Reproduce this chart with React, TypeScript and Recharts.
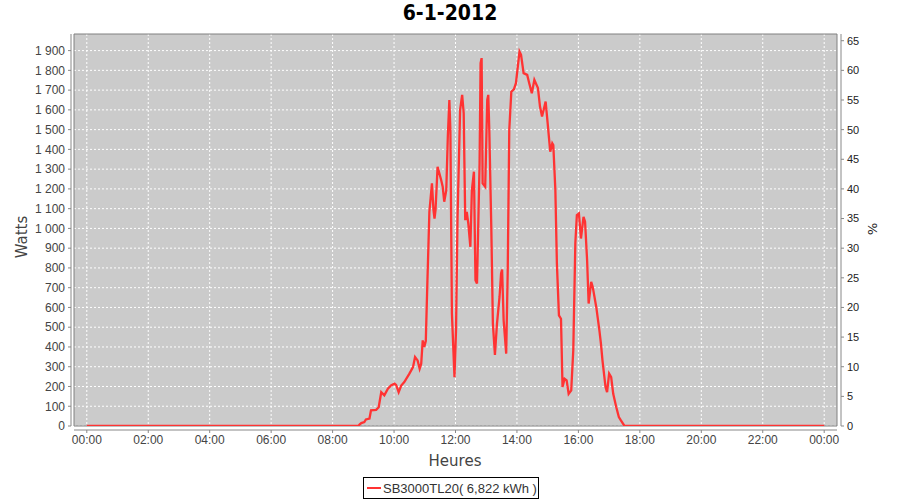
import { CartesianGrid, Line, LineChart, ReferenceArea, XAxis, YAxis } from 'recharts'

// puissance relevée (heure locale, watts)
const TIMES = [
  '00:00', '08:50', '08:53', '08:56', '09:02', '09:05', '09:12', '09:15', '09:25', '09:30',
  '09:35', '09:41', '09:48', '09:54', '10:01', '10:04', '10:09', '10:14', '10:20', '10:30',
  '10:37', '10:41', '10:46', '10:50', '10:53', '10:56', '10:59', '11:02', '11:05', '11:07',
  '11:09', '11:14', '11:17', '11:19', '11:21', '11:25', '11:32', '11:35', '11:38', '11:42',
  '11:45', '11:48', '11:50', '11:53', '11:58', '12:01', '12:04', '12:09', '12:13', '12:16',
  '12:19', '12:22', '12:25', '12:29', '12:32', '12:36', '12:39', '12:42', '12:47', '12:49',
  '12:51', '12:53', '12:58', '13:02', '13:04', '13:06', '13:10', '13:13', '13:17', '13:21',
  '13:26', '13:29', '13:31', '13:34', '13:39', '13:42', '13:45', '13:49', '13:54', '13:58',
  '14:05', '14:08', '14:13', '14:20', '14:24', '14:29', '14:34', '14:41', '14:45', '14:49',
  '14:56', '15:00', '15:05', '15:09', '15:11', '15:15', '15:18', '15:22', '15:26', '15:29',
  '15:33', '15:37', '15:41', '15:46', '15:50', '15:54', '15:57', '16:01', '16:05', '16:10',
  '16:13', '16:17', '16:20', '16:25', '16:28', '16:35', '16:41', '16:44', '16:47', '16:53',
  '16:56', '17:00', '17:04', '17:08', '17:14', '17:19', '17:23', '17:30', '24:00',
]

const WATTS = [
  0, 0, 8, 15, 20, 33, 38, 79, 82, 95,
  171, 155, 189, 205, 214, 208, 171, 205, 222, 265,
  298, 349, 332, 290, 315, 433, 400, 430, 720, 900,
  1084, 1228, 1093, 1050, 1093, 1312, 1245, 1211, 1135, 1194,
  1464, 1650, 1498, 569, 247, 484, 1059, 1600, 1676, 1583,
  1042, 1084, 1025, 907, 1194, 1287, 738, 721, 1329, 1836,
  1862, 1228, 1211, 1650, 1676, 1498, 991, 518, 360, 518,
  653, 772, 792, 535, 366, 788, 1498, 1692, 1704, 1735,
  1895, 1879, 1786, 1777, 1735, 1684, 1752, 1710, 1617, 1566,
  1642, 1532, 1388, 1431, 1422, 1194, 822, 560, 543, 197,
  239, 231, 163, 180, 383, 924, 1068, 1076, 949, 1059,
  1034, 839, 620, 729, 704, 600, 484, 417, 332, 197,
  171, 265, 247, 163, 95, 45, 28, 0, 0,
]

const HOUR_TICKS = [0, 120, 240, 360, 480, 600, 720, 840, 960, 1080, 1200, 1320, 1440]
const WATT_TICKS = [
  0, 100, 200, 300, 400, 500, 600, 700, 800, 900, 1000,
  1100, 1200, 1300, 1400, 1500, 1600, 1700, 1800, 1900,
]
const PCT_TICKS = [0, 5, 10, 15, 20, 25, 30, 35, 40, 45, 50, 55, 60, 65]

const TITLE = '6-1-2012'
const SERIES = 'SB3000TL20( 6,822 kWh )'

const toMinutes = (t: string) => {
  const [h, m] = t.split(':').map(Number)
  return h * 60 + m
}

const data = TIMES.map((t, i) => ({ min: toMinutes(t), watts: WATTS[i] }))

const fmtHour = (v: number) => {
  const h = Math.floor(v / 60) % 24
  return `${String(h).padStart(2, '0')}:00`
}

const fmtWatts = (v: number) =>
  v >= 1000 ? `${Math.floor(v / 1000)} ${String(v % 1000).padStart(3, '0')}` : String(v)

const X_MIN = -25
const X_MAX = 1465
const W_MAX = 1984
const P_MAX = W_MAX / 30

const tickFont = { fontFamily: 'Liberation Sans', fontSize: 12, fill: '#444' }
const axisGrey = '#888'
const LINE_RED = '#ff3333'

export default function App() {
  return (
    <div
      style={{
        position: 'absolute',
        left: 0,
        top: 0,
        width: 900,
        height: 500,
        background: '#fff',
        fontFamily: 'DejaVu Sans',
      }}
    >
      <div
        style={{
          position: 'absolute',
          top: 1,
          width: 900,
          textAlign: 'center',
          fontFamily: 'DejaVu Sans Condensed',
          fontWeight: 'bold',
          fontSize: 21,
          color: '#000',
        }}
      >
        {TITLE}
      </div>

      <LineChart
        width={900}
        height={500}
        data={data}
        margin={{ top: 34, right: 13, bottom: 44, left: 14 }}
      >
        <CartesianGrid
          xAxisId="x"
          yAxisId="left"
          fill="#cbcbcb"
          stroke="#ffffff"
          strokeDasharray="2 2"
          verticalValues={HOUR_TICKS}
          horizontalValues={WATT_TICKS}
        />
        <ReferenceArea
          xAxisId="x"
          yAxisId="left"
          x1={X_MIN}
          x2={X_MAX}
          y1={0}
          y2={W_MAX}
          fill="none"
          stroke="#808080"
          strokeWidth={1}
        />
        <XAxis
          xAxisId="x"
          dataKey="min"
          type="number"
          domain={[X_MIN, X_MAX]}
          ticks={HOUR_TICKS}
          interval={0}
          tickFormatter={fmtHour}
          height={30}
          tickSize={3}
          tickMargin={6}
          tick={tickFont}
          axisLine={{ stroke: axisGrey, transform: 'translate(0,4)' }}
          tickLine={{ stroke: axisGrey, transform: 'translate(0,4)' }}
          allowDataOverflow
        />
        <YAxis
          yAxisId="left"
          type="number"
          domain={[0, W_MAX]}
          ticks={WATT_TICKS}
          interval={0}
          tickFormatter={fmtWatts}
          width={60}
          tickSize={3}
          tickMargin={6}
          tick={tickFont}
          axisLine={{ stroke: axisGrey, transform: 'translate(-3,0)' }}
          tickLine={{ stroke: axisGrey, transform: 'translate(-3,0)' }}
          allowDataOverflow
        />
        <YAxis
          yAxisId="right"
          orientation="right"
          type="number"
          domain={[0, P_MAX]}
          ticks={PCT_TICKS}
          interval={0}
          width={50}
          tickSize={3}
          tickMargin={7}
          tick={{ ...tickFont, fill: '#222', fontSize: 11 }}
          axisLine={{ stroke: axisGrey, transform: 'translate(4,0)' }}
          tickLine={{ stroke: axisGrey, transform: 'translate(4,0)' }}
          allowDataOverflow
        />
        <Line
          xAxisId="x"
          yAxisId="left"
          type="linear"
          dataKey="watts"
          stroke={LINE_RED}
          strokeWidth={2.3}
          dot={false}
          isAnimationActive={false}
        />
      </LineChart>

      <div
        style={{
          position: 'absolute',
          left: 22,
          top: 237,
          transform: 'translate(-50%, -50%) rotate(-90deg)',
          fontSize: 15,
          color: '#444',
        }}
      >
        Watts
      </div>
      <div
        style={{
          position: 'absolute',
          left: 872,
          top: 229,
          transform: 'translate(-50%, -50%) rotate(90deg)',
          fontSize: 13,
          color: '#222',
        }}
      >
        %
      </div>
      <div
        style={{
          position: 'absolute',
          left: 455,
          top: 461,
          transform: 'translate(-50%, -50%)',
          fontSize: 15,
          color: '#444',
        }}
      >
        Heures
      </div>

      <div
        style={{
          position: 'absolute',
          left: 363,
          top: 477,
          width: 174,
          height: 20,
          border: '1px solid #000',
          background: '#fff',
          display: 'flex',
          alignItems: 'center',
          whiteSpace: 'nowrap',
          overflow: 'visible',
          fontFamily: 'Liberation Sans',
          fontSize: 13,
          color: '#333',
        }}
      >
        <span
          style={{
            display: 'inline-block',
            width: 14,
            height: 2,
            background: LINE_RED,
            marginLeft: 3,
            marginRight: 2,
            flexShrink: 0,
          }}
        />
        {SERIES}
      </div>
    </div>
  )
}
